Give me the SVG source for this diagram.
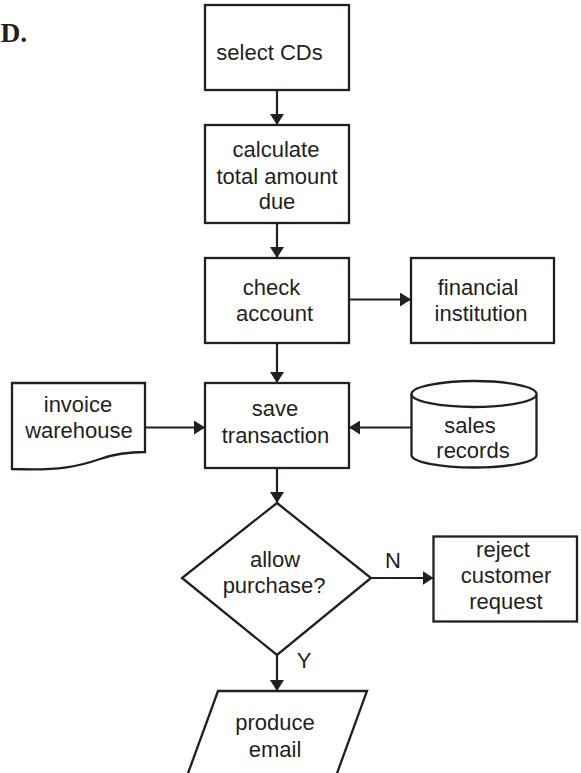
<svg xmlns="http://www.w3.org/2000/svg" width="581" height="773" viewBox="0 0 581 773">
<style>
.shape{fill:#fff;stroke:#231f20;stroke-width:2.3}
.lbl{font-family:"Liberation Sans",Arial,sans-serif;font-size:22px;fill:#231f20;text-anchor:middle}
.conn{fill:none;stroke:#231f20;stroke-width:2.2;marker-end:url(#ah)}
</style>
<defs>
<marker id="ah" viewBox="0 0 11 14" refX="11" refY="7" markerWidth="11" markerHeight="14" markerUnits="userSpaceOnUse" orient="auto">
<path d="M0,0 L11,7 L0,14 z" fill="#231f20"/>
</marker>
</defs>
<rect width="581" height="773" fill="#fff"/>
<text x="0.5" y="41.7" font-family="'Liberation Serif','Times New Roman',serif" font-weight="bold" font-size="27.5" fill="#231f20">D.</text>

<g id="select">
<rect class="shape" x="205" y="5" width="144" height="85"/>
<text class="lbl" x="269.5" y="59.5">select CDs</text>
</g>
<g id="calculate">
<rect class="shape" x="205" y="125" width="144" height="98"/>
<text class="lbl" x="276" y="157">calculate</text>
<text class="lbl" x="277" y="184">total amount</text>
<text class="lbl" x="277" y="209">due</text>
</g>
<g id="check">
<rect class="shape" x="205" y="258" width="144" height="85"/>
<text class="lbl" x="271.5" y="295">check</text>
<text class="lbl" x="274.5" y="321">account</text>
</g>
<g id="financial">
<rect class="shape" x="411" y="258" width="143" height="85"/>
<text class="lbl" x="478" y="295">financial</text>
<text class="lbl" x="481" y="321">institution</text>
</g>
<g id="save">
<rect class="shape" x="205" y="383" width="144" height="85"/>
<text class="lbl" x="275" y="416">save</text>
<text class="lbl" x="275.5" y="443">transaction</text>
</g>
<g id="invoice">
<path class="shape" d="M12,383 H145 V452 C135,452 120,452 100,459 C80,466 60,471 12,469 Z"/>
<text class="lbl" x="78" y="412">invoice</text>
<text class="lbl" x="79" y="438">warehouse</text>
</g>
<g id="sales">
<path class="shape" d="M411.5,394 A62.5,13 0 0 1 536.5,394 V455 A62.5,12.5 0 0 1 411.5,455 Z"/>
<path class="shape" fill="none" d="M411.5,394 A62.5,13 0 0 0 536.5,394"/>
<text class="lbl" x="470" y="433">sales</text>
<text class="lbl" x="473" y="458">records</text>
</g>
<g id="allow">
<path class="shape" d="M277,503 L371,578 L277,655 L182,578 Z"/>
<text class="lbl" x="275" y="567">allow</text>
<text class="lbl" x="274" y="593">purchase?</text>
</g>
<g id="reject">
<rect class="shape" x="433.5" y="536.5" width="143.5" height="85"/>
<text class="lbl" x="503" y="557">reject</text>
<text class="lbl" x="506" y="583">customer</text>
<text class="lbl" x="506" y="609">request</text>
</g>
<g id="produce">
<path class="shape" d="M218,691 H367 L332,787 H183 Z"/>
<text class="lbl" x="275" y="730">produce</text>
<text class="lbl" x="275" y="757">email</text>
</g>

<g id="connectors">
<path class="conn" d="M277,90 V125"/>
<path class="conn" d="M277,223 V258"/>
<path class="conn" d="M277,343 V383"/>
<path class="conn" d="M277,468 V503"/>
<path class="conn" d="M349,299.5 H411"/>
<path class="conn" d="M145,427.5 H205"/>
<path class="conn" d="M411.5,427.5 H349"/>
<path class="conn" d="M371,578 H433.5"/>
<path class="conn" d="M277,655 V691"/>
<text class="lbl" x="393" y="568">N</text>
<text class="lbl" x="304" y="668">Y</text>
</g>
</svg>
